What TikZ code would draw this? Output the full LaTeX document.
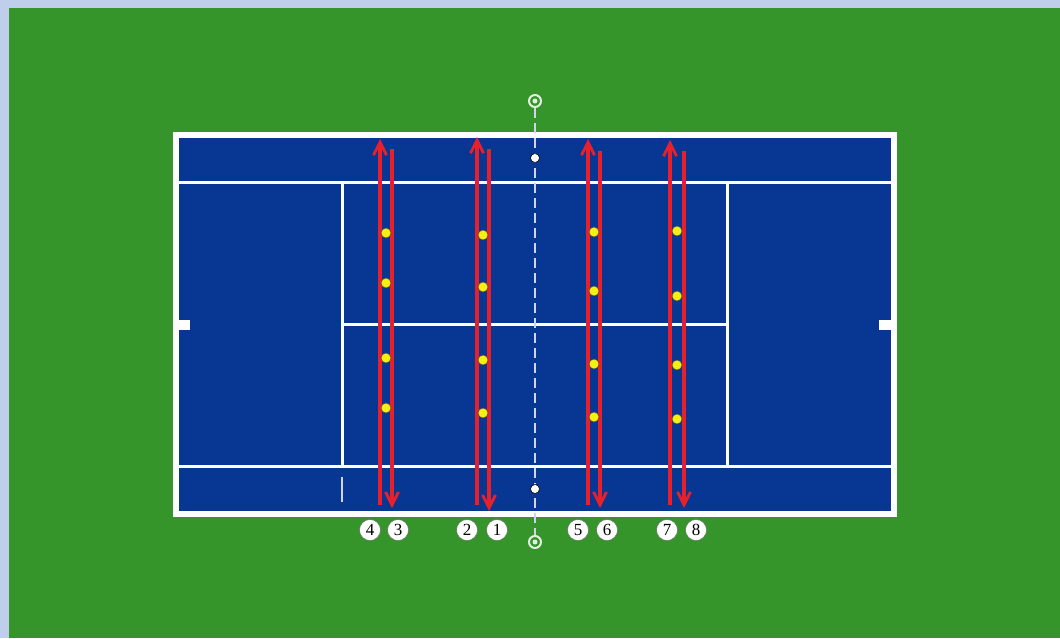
\documentclass[tikz,border=0pt]{standalone}
\usetikzlibrary{arrows.meta}
\usepackage{fontspec}
\setmainfont{Liberation Serif}
\definecolor{bgblue}{HTML}{BFCFEB}
\definecolor{grass}{HTML}{35952A}
\definecolor{court}{HTML}{083693}
\definecolor{arrowred}{HTML}{E8202C}
\definecolor{ballyellow}{HTML}{F4F012}
\begin{document}
\begin{tikzpicture}[x=1pt,y=-1pt,
  courtline/.style={draw=white,line width=3pt},
  runarrow/.style={draw=arrowred,line width=3.2pt,-{Straight Barb[length=13pt,width=13pt,line width=2.8pt]}},
  ball/.style={circle,fill=ballyellow,draw=black!70,line width=0.6pt,inner sep=0pt,minimum size=10pt},
  numlabel/.style={circle,fill=white,draw=black!60,line width=0.4pt,inner sep=0pt,minimum size=21pt,font=\fontsize{17}{17}\selectfont},
  postring/.style={circle,draw=white!85!grass,line width=2pt,fill=grass,inner sep=0pt,minimum size=12pt},
  netdot/.style={circle,fill=white,draw=black,line width=0.6pt,inner sep=0pt,minimum size=9pt}]
\useasboundingbox (0,0) rectangle (1060,638);
\fill[bgblue] (0,0) rectangle (1060,638);
\fill[grass] (9,8) rectangle (1060,638);
% court
\fill[court] (175.5,135) rectangle (893.5,514);
\draw[draw=white,line width=6pt] (175.5,135) rectangle (893.5,514);
\draw[courtline] (178,182) -- (891,182);
\draw[courtline] (178,466) -- (891,466);
\draw[courtline] (342,182) -- (342,466);
\draw[courtline] (727,182) -- (727,466);
\draw[courtline] (342,324) -- (727,324);
\fill[white] (178,319.5) rectangle (190,329.5);
\fill[white] (879,319.5) rectangle (891,329.5);
\draw[draw=white!80!court,line width=1.4pt] (342,477) -- (342,502);
% net
\node[postring] (posttop) at (535,101) {};
\node[postring] (postbot) at (535,542) {};
\fill[white!85!grass] (535,101) circle (2.5pt);
\fill[white!85!grass] (535,542) circle (2.5pt);
\draw[draw=white!80!court,line width=1.4pt,dash pattern=on 10pt off 5pt] (posttop) -- (postbot);
\node[netdot] (sticktop) at (535,158) {};
\node[netdot] (stickbot) at (535,489) {};
% arrows
\coordinate (a4s) at (380,505); \coordinate (a4e) at (380,139);
\coordinate (a3s) at (392,149); \coordinate (a3e) at (392,508);
\coordinate (a2s) at (477,505); \coordinate (a2e) at (477,137);
\coordinate (a1s) at (489,149); \coordinate (a1e) at (489,511);
\coordinate (a5s) at (588,505); \coordinate (a5e) at (588,139);
\coordinate (a6s) at (600,151); \coordinate (a6e) at (600,508);
\coordinate (a7s) at (670,505); \coordinate (a7e) at (670,140);
\coordinate (a8s) at (684,151); \coordinate (a8e) at (684,508);
\foreach \n in {1,...,8} {\draw[runarrow] (a\n s) -- (a\n e);}
% balls
\foreach \y [count=\i] in {233,283,358,408} {\node[ball] (ba\i) at (386,\y) {};}
\foreach \y [count=\i] in {235,287,360,413} {\node[ball] (bb\i) at (483,\y) {};}
\foreach \y [count=\i] in {232,291,364,417} {\node[ball] (bc\i) at (594,\y) {};}
\foreach \y [count=\i] in {231,296,365,419} {\node[ball] (bd\i) at (677,\y) {};}
% labels
\node[numlabel] (l4) at (370,530) {4};
\node[numlabel] (l3) at (398,530) {3};
\node[numlabel] (l2) at (467,530) {2};
\node[numlabel] (l1) at (497,530) {1};
\node[numlabel] (l5) at (578,530) {5};
\node[numlabel] (l6) at (607,530) {6};
\node[numlabel] (l7) at (667,530) {7};
\node[numlabel] (l8) at (696,530) {8};
\end{tikzpicture}
\end{document}
